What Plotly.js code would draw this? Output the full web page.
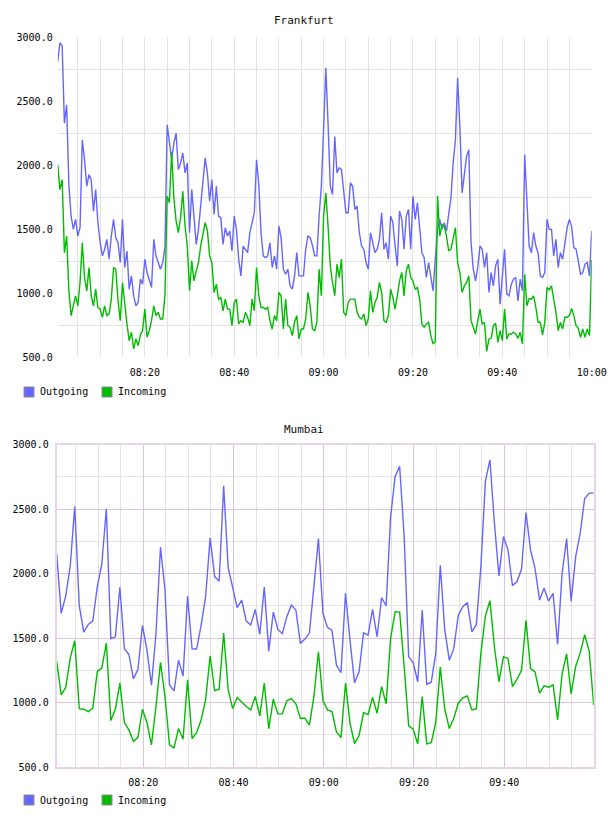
<!DOCTYPE html>
<html><head><meta charset="utf-8">
<script src="https://cdn.plot.ly/plotly-3.0.1.min.js"></script>
<style>html,body{margin:0;padding:0;background:#fff}#chart{width:608px;height:816px}</style>
</head><body><div id="chart"></div>
<script>
// ---- data ----
const chartTitles = ['Frankfurt', 'Mumbai'];
const seriesNames = ['Outgoing', 'Incoming'];
const tickFormat = '%H:%M';

const frankfurtStartSec = 8 * 3600 + 30;   // 08:00:30
const frankfurtStepSec = 30;
const frankfurtOutgoing = [
  2807, 2955, 2932, 2327, 2470, 1847, 1600, 1497, 1575, 1445,
  1510, 2197, 2042, 1834, 1925, 1886, 1640, 1808, 1549, 1393,
  1290, 1342, 1419, 1264, 1445, 1575, 1432, 1393, 1238, 1575,
  1199, 1328, 1030, 1134, 978, 900, 926, 1108, 1069, 1264,
  1160, 1108, 1043, 1419, 1290, 1238, 1186, 1238, 1354, 2314,
  2159, 2042, 2172, 2249, 1964, 2016, 2094, 1938, 2016, 1471,
  1808, 1601, 1380, 1497, 1705, 1912, 2055, 1938, 1718, 1886,
  1614, 1834, 1601, 1588, 1380, 1510, 1445, 1484, 1328, 1601,
  1497, 1264, 1134, 1367, 1342, 1315, 1471, 1562, 1627, 2040,
  1850, 1471, 1290, 1277, 1290, 1393, 1199, 1290, 1186, 1523,
  1432, 1186, 1147, 1186, 1056, 1030, 1134, 1315, 1134, 1134,
  1134, 1342, 1445, 1432, 1373, 1290, 1290, 1601, 1834, 2275,
  2760, 2327, 1834, 1769, 2223, 1938, 1977, 1964, 1808, 1627,
  1627, 1860, 1834, 1653, 1679, 1471, 1367, 1342, 1238, 1186,
  1471, 1393, 1315, 1342, 1419, 1627, 1342, 1393, 1264, 1601,
  1549, 1367, 1212, 1640, 1575, 1342, 1601, 1653, 1342, 1756,
  1575, 1705, 1471, 1315, 1277, 1121, 1238, 1134, 1017, 1264,
  1497, 1575, 1497, 1549, 1484, 1614, 1743, 2016, 2197, 2680,
  2300, 1782, 1951, 2068, 2120, 1393, 1186, 1095, 1199, 1367,
  1342, 1199, 1315, 1004, 1160, 1056, 1212, 1264, 913, 1108,
  1342, 991, 978, 1069, 1108, 1121, 939, 1108, 1017, 2080,
  1705, 1367, 1315, 1471, 1367, 1315, 1134, 1121, 1160, 1575,
  1497, 1497, 1290, 1419, 1199, 1315, 1264, 1393, 1510, 1575,
  1523, 1354, 1342, 1251, 1147, 1160, 1225, 1238, 1134, 1484
];
const frankfurtIncoming = [
  2003, 1808, 1886, 1315, 1445, 1017, 823, 900, 978, 900,
  1082, 1393, 1121, 1017, 1199, 978, 900, 1030, 887, 874,
  810, 900, 823, 836, 952, 1199, 1186, 939, 784, 1082,
  900, 758, 628, 693, 563, 641, 589, 672, 706, 874,
  654, 706, 784, 900, 823, 849, 797, 797, 978, 1757,
  1705, 2100, 1744, 1562, 1471, 1588, 1795, 1523, 1367, 1017,
  1251, 1095, 1173, 1238, 1367, 1471, 1549, 1489, 1290, 1238,
  1004, 1069, 952, 965, 861, 952, 874, 874, 745, 926,
  952, 758, 784, 771, 849, 810, 745, 952, 861, 1199,
  978, 887, 887, 874, 887, 784, 719, 823, 784, 1004,
  978, 719, 952, 745, 732, 667, 771, 823, 641, 719,
  719, 797, 1004, 900, 719, 706, 771, 1186, 978, 1601,
  1780, 1523, 1212, 1082, 978, 1225, 1121, 1264, 849, 823,
  926, 952, 952, 952, 849, 810, 797, 836, 745, 797,
  1017, 849, 926, 965, 1082, 1004, 784, 771, 823, 1030,
  965, 874, 978, 1095, 1160, 978, 1173, 1225, 1121, 1095,
  1030, 1043, 952, 758, 732, 758, 771, 667, 602, 620,
  1760, 1445, 1536, 1523, 1445, 1328, 1342, 1432, 1510, 1238,
  1160, 1004, 1056, 1082, 1134, 784, 732, 680, 784, 874,
  758, 771, 543, 641, 646, 745, 763, 615, 706, 628,
  874, 641, 680, 680, 693, 680, 646, 693, 602, 1147,
  900, 956, 952, 978, 887, 771, 771, 672, 771, 1043,
  1025, 1056, 952, 849, 706, 771, 719, 810, 810, 823,
  880, 823, 745, 724, 654, 719, 654, 719, 667, 1257
];

const mumbaiStartSec = 8 * 3600 + 50;   // 08:00:50
const mumbaiStepSec = 60;
const mumbaiOutgoing = [
  2153, 1692, 1826, 2060, 2521, 1751, 1547, 1606, 1632, 1899,
  2075, 2503, 1495, 1510, 1894, 1417, 1373, 1184, 1256, 1598,
  1407, 1135, 1536, 2205, 1873, 1137, 1091, 1329, 1205, 1826,
  1417, 1415, 1598, 1821, 2277, 1977, 1940, 2681, 2047, 1899,
  1736, 1795, 1632, 1601, 1723, 1528, 1896, 1399, 1702, 1567,
  1536, 1666, 1756, 1718, 1459, 1492, 1539, 1899, 2272, 1692,
  1583, 1562, 1290, 1231, 1847, 1484, 1153, 1238, 1541, 1523,
  1723, 1510, 1813, 1749, 2443, 2754, 2832, 2288, 1355, 1308,
  1161, 1718, 1140, 1158, 1381, 2065, 1562, 1329, 1420, 1679,
  1744, 1775, 1549, 1606, 2054, 2715, 2883, 2391, 1982, 2288,
  2184, 1907, 1938, 2034, 2474, 2184, 2041, 1795, 1886, 1788,
  1847, 1451, 2003, 2272, 1785, 2132, 2313, 2583, 2624, 2624
];
const mumbaiIncoming = [
  1321, 1060, 1117, 1345, 1479, 953, 948, 930, 956, 1241,
  1267, 1461, 860, 948, 1150, 845, 788, 699, 728, 948,
  845, 671, 969, 1311, 1047, 671, 648, 798, 715, 1176,
  720, 767, 865, 1021, 1363, 1093, 1104, 1539, 1098, 953,
  1039, 1003, 969, 943, 1047, 896, 1150, 798, 1026, 912,
  912, 1013, 1031, 990, 878, 878, 824, 1047, 1394, 1016,
  943, 930, 772, 728, 1150, 840, 681, 743, 922, 907,
  1039, 917, 1124, 990, 1500, 1705, 1702, 1280, 819, 793,
  679, 1047, 679, 689, 845, 1275, 948, 798, 878, 995,
  1036, 1052, 943, 953, 1383, 1671, 1790, 1433, 1161, 1355,
  1342, 1124, 1181, 1249, 1637, 1264, 1238, 1073, 1130, 1119,
  1137, 865, 1223, 1378, 1067, 1280, 1383, 1526, 1399, 979
];

// ---- helpers ----
function pad(n) { return String(n).padStart(2, '0'); }
function fmt(sec) {
  const h = Math.floor(sec / 3600), m = Math.floor((sec % 3600) / 60), s = sec % 60;
  return '2024-01-01 ' + pad(h) + ':' + pad(m) + ':' + pad(s);
}
function times(startSec, stepSec, n) {
  const out = [];
  for (let i = 0; i < n; i++) out.push(fmt(startSec + i * stepSec));
  return out;
}

const W = 608, H = 816;
const M = { l: 56, r: 14, t: 37, b: 49 };
const PW = W - M.l - M.r, PH = H - M.t - M.b;
const px2x = px => (px - M.l) / PW;     // page pixel -> paper fraction
const py2y = py => (H - M.b - py) / PH;

const colors = ['#6666ff', '#00bb00'];
const MONO = '"DejaVu Sans Mono", monospace';
const TEXT = '#000';

const fx = times(frankfurtStartSec, frankfurtStepSec, frankfurtOutgoing.length);
const mx = times(mumbaiStartSec, mumbaiStepSec, mumbaiOutgoing.length);

function line(x, y, i, xa, ya) {
  return { type: 'scatter', mode: 'lines', x: x, y: y, name: seriesNames[i], xaxis: xa, yaxis: ya,
    line: { color: colors[i], width: 1.4 }, showlegend: false, hoverinfo: 'skip' };
}

const data = [
  line(fx, frankfurtOutgoing, 0, 'x', 'y'),
  line(fx, frankfurtIncoming, 1, 'x', 'y'),
  line(mx, mumbaiOutgoing, 0, 'x2', 'y2'),
  line(mx, mumbaiIncoming, 1, 'x2', 'y2')
];

// legend built as swatch + label (one legend under each panel)
const legendRows = [392, 800];          // vertical centre of each legend row (px)
const legendSwatchLeft = [24, 102];     // swatch left edge for each series (px)
const shapes = [], annotations = [];
legendRows.forEach(cy => {
  seriesNames.forEach((name, i) => {
    const sx = legendSwatchLeft[i];
    shapes.push({ type: 'rect', xref: 'paper', yref: 'paper',
      x0: px2x(sx), x1: px2x(sx + 10), y0: py2y(cy + 5), y1: py2y(cy - 5),
      fillcolor: colors[i], line: { color: '#8a8a8a', width: 1 } });
    annotations.push({ text: name, xref: 'paper', yref: 'paper', x: px2x(sx + 14), y: py2y(cy),
      xanchor: 'left', yanchor: 'middle', showarrow: false,
      font: { family: MONO, size: 10, color: TEXT } });
  });
});
annotations.push(
  { text: chartTitles[0], xref: 'paper', yref: 'paper', x: px2x(304), y: py2y(20), xanchor: 'center', yanchor: 'middle',
    showarrow: false, font: { family: MONO, size: 11, color: '#111' } },
  { text: chartTitles[1], xref: 'paper', yref: 'paper', x: px2x(304), y: py2y(429), xanchor: 'center', yanchor: 'middle',
    showarrow: false, font: { family: MONO, size: 11, color: '#111' } }
);

const tickFont = { family: MONO, size: 10, color: TEXT };
const grayGrid = '#e3e3e3';
const pinkGrid = '#dcc4dc';
const pinkLine = '#e8d4e8';

const layout = {
  width: W, height: H,
  margin: M,
  showlegend: false,
  paper_bgcolor: '#fff', plot_bgcolor: '#fff',
  font: { family: MONO, size: 10, color: TEXT },
  xaxis: {
    type: 'date', domain: [px2x(57.7), px2x(591.7)], anchor: 'y',
    range: [fx[0], fx[fx.length - 1]],
    tick0: '2024-01-01 08:00:00', dtick: 20 * 60000, tickformat: tickFormat,
    showgrid: true, gridcolor: grayGrid, gridwidth: 1, zeroline: false, showline: false,
    ticks: '', tickfont: tickFont, ticklabelstandoff: 8,
    minor: { tick0: '2024-01-01 08:00:00', dtick: 5 * 60000, showgrid: true, gridcolor: grayGrid, gridwidth: 1 }
  },
  yaxis: {
    domain: [py2y(357), 1], anchor: 'x', range: [500, 3000],
    tick0: 500, dtick: 500, tickformat: '.1f',
    showgrid: false, zeroline: false, showline: false, ticks: '', tickfont: tickFont, ticklabelstandoff: 4,
    minor: { tick0: 750, dtick: 500, showgrid: true, gridcolor: grayGrid, gridwidth: 1 }
  },
  xaxis2: {
    type: 'date', domain: [px2x(56.7), px2x(593.7)], anchor: 'y2',
    range: [mx[0], mx[mx.length - 1]],
    tick0: '2024-01-01 08:00:00', dtick: 20 * 60000, tickformat: tickFormat,
    showgrid: true, gridcolor: pinkGrid, gridwidth: 1, zeroline: false,
    showline: true, mirror: true, linecolor: pinkLine, linewidth: 2,
    ticks: '', tickfont: tickFont, ticklabelstandoff: 5,
    minor: { tick0: '2024-01-01 08:00:00', dtick: 5 * 60000, showgrid: true, gridcolor: grayGrid, gridwidth: 1 }
  },
  yaxis2: {
    domain: [0, py2y(444.7)], anchor: 'x2', range: [500, 3000],
    tick0: 500, dtick: 500, tickformat: '.1f',
    showgrid: true, gridcolor: pinkGrid, gridwidth: 1, zeroline: false,
    showline: true, mirror: true, linecolor: pinkLine, linewidth: 2,
    ticks: '', tickfont: tickFont, ticklabelstandoff: 4,
    minor: { tick0: 750, dtick: 500, showgrid: true, gridcolor: grayGrid, gridwidth: 1 }
  },
  shapes: shapes,
  annotations: annotations
};

Plotly.newPlot('chart', data, layout, { displayModeBar: false, staticPlot: true });
</script>
</body></html>
